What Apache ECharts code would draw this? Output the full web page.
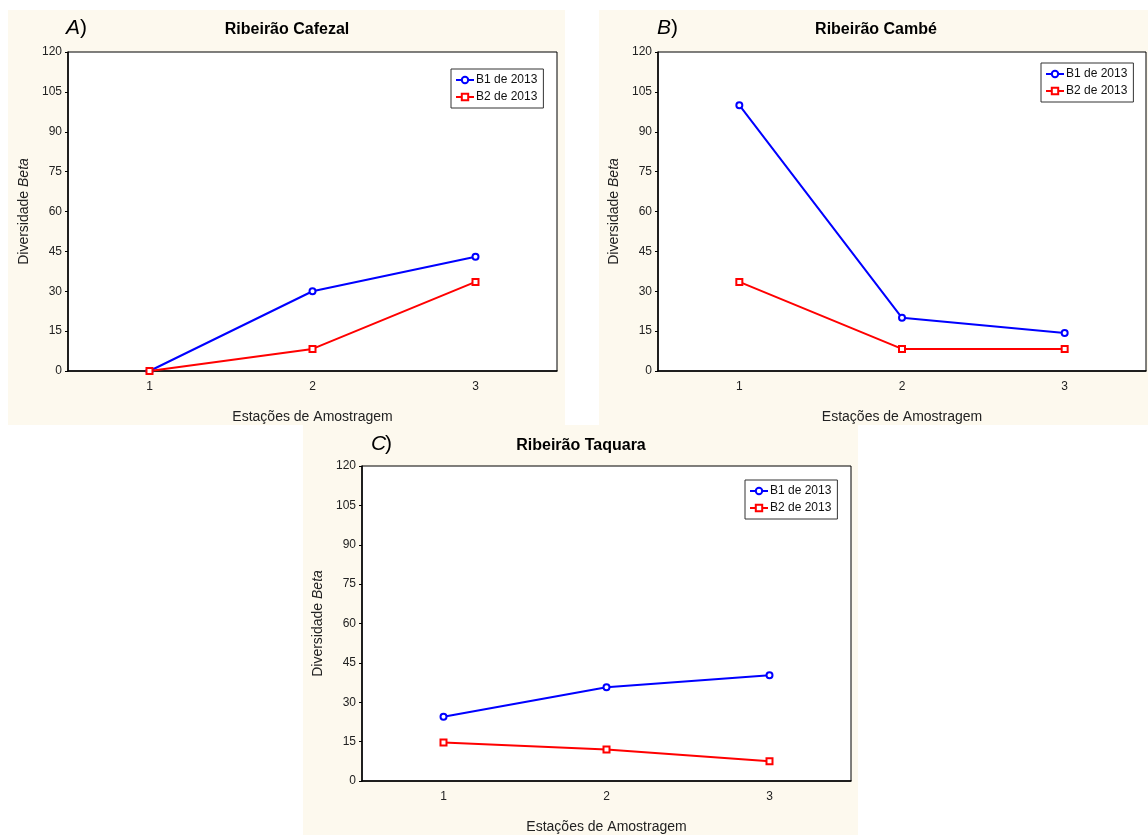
<!DOCTYPE html>
<html>
<head>
<meta charset="utf-8">
<script src="https://cdn.jsdelivr.net/npm/echarts@6/dist/echarts.min.js"></script>
<style>
html,body{margin:0;padding:0;background:#fff;}
#c{width:1148px;height:835px;}
</style>
</head>
<body>
<div id="c"></div>
<script>
// ---- data ----
var stations = ['1', '2', '3'];
var seriesNames = ['B1 de 2013', 'B2 de 2013'];
var panelTitles = ['Ribeirão Cafezal', 'Ribeirão Cambé', 'Ribeirão Taquara'];
var panelLetters = ['A', 'B', 'C'];
var cafezalB1 = [0, 30, 43];
var cafezalB2 = [0, 8.3, 33.5];
var cambeB1 = [100, 20, 14.3];
var cambeB2 = [33.5, 8.3, 8.3];
var taquaraB1 = [24.5, 35.7, 40.3];
var taquaraB2 = [14.7, 12, 7.5];
var yTicks = {min: 0, max: 120, interval: 15};
var xAxisTitle = 'Estações de Amostragem';

// ---- layout ----
var FONT = '"Liberation Sans", Arial, sans-serif';
var panels = [
  {bg: [8, 10, 557, 415], grid: {left: 68, top: 52, width: 489, height: 319}, legend: {left: 451, top: 69},
   title: [287, 30], letter: [66, 28], data: [cafezalB1, cafezalB2]},
  {bg: [599, 10, 560, 415], grid: {left: 658, top: 52, width: 488, height: 319}, legend: {left: 1041, top: 63},
   title: [876, 30], letter: [657, 28], data: [cambeB1, cambeB2]},
  {bg: [303, 425, 555, 410], grid: {left: 362, top: 466, width: 489, height: 319}, legend: {left: 745, top: 480},
   title: [581, 446], letter: [371, 444], data: [taquaraB1, taquaraB2]}
];
var colors = ['#0000ff', '#ff0000'];
var symbols = ['emptyCircle', 'emptyRect'];

var grids = [], xAxes = [], yAxes = [], series = [], legends = [], graphics = [];
panels.forEach(function (p, i) {
  graphics.push({type: 'rect', z: -10, silent: true,
    shape: {x: p.bg[0], y: p.bg[1], width: p.bg[2], height: p.bg[3]},
    style: {fill: '#fdf9ee'}});
  graphics.push({type: 'text', z: 10, x: p.title[0], y: p.title[1],
    style: {text: panelTitles[i], font: 'bold 16px ' + FONT, fill: '#000', textAlign: 'center', textVerticalAlign: 'middle'}});
  graphics.push({type: 'text', z: 10, x: p.letter[0], y: p.letter[1],
    style: {text: panelLetters[i], font: 'italic 21px ' + FONT, fill: '#000', textAlign: 'left', textVerticalAlign: 'middle'}});
  graphics.push({type: 'text', z: 10, x: p.letter[0] + 14, y: p.letter[1],
    style: {text: ')', font: '21px ' + FONT, fill: '#000', textAlign: 'left', textVerticalAlign: 'middle'}});

  grids.push({left: p.grid.left, top: p.grid.top, width: p.grid.width, height: p.grid.height,
    show: true, backgroundColor: '#fff', borderColor: '#000', borderWidth: 1});
  xAxes.push({type: 'category', gridIndex: i, data: stations, boundaryGap: true,
    axisLine: {lineStyle: {color: '#000', width: 1.5}},
    axisTick: {alignWithLabel: true, length: 3, lineStyle: {color: '#000'}},
    axisLabel: {fontFamily: FONT, fontSize: 12, color: '#222', margin: 10},
    name: xAxisTitle, nameLocation: 'middle', nameGap: 39,
    nameTextStyle: {fontFamily: FONT, fontSize: 14, color: '#222'},
    splitLine: {show: false}});
  yAxes.push({type: 'value', gridIndex: i, min: yTicks.min, max: yTicks.max, interval: yTicks.interval,
    axisLine: {show: true, lineStyle: {color: '#000', width: 1.5}},
    axisTick: {show: true, length: 3, lineStyle: {color: '#000'}},
    axisLabel: {fontFamily: FONT, fontSize: 12, color: '#222', margin: 6},
    splitLine: {show: false},
    name: 'Diversidade {i|Beta}', nameLocation: 'middle', nameGap: 37, nameRotate: 90,
    nameTextStyle: {fontFamily: FONT, fontSize: 14, color: '#222',
      rich: {i: {fontFamily: FONT, fontSize: 14, fontStyle: 'italic', color: '#222'}}}});
  p.data.forEach(function (vals, k) {
    series.push({type: 'line', name: seriesNames[k], xAxisIndex: i, yAxisIndex: i,
      data: vals, symbol: symbols[k], symbolSize: 6, color: colors[k],
      lineStyle: {width: 2, color: colors[k]},
      itemStyle: {color: colors[k], borderWidth: 1},
      animation: false});
  });
  legends.push({left: p.legend.left, top: p.legend.top, orient: 'vertical',
    data: seriesNames, backgroundColor: '#fff', borderColor: '#333', borderWidth: 1,
    padding: [5, 6, 5, 4], itemGap: 5, itemWidth: 18, itemHeight: 8,
    textStyle: {fontFamily: FONT, fontSize: 12, color: '#111', padding: [0, 0, 0, -3]}});
});

var chart = echarts.init(document.getElementById('c'));
chart.setOption({
  animation: false,
  backgroundColor: '#fff',
  grid: grids, xAxis: xAxes, yAxis: yAxes, series: series, legend: legends,
  graphic: graphics
});
</script>
</body>
</html>
